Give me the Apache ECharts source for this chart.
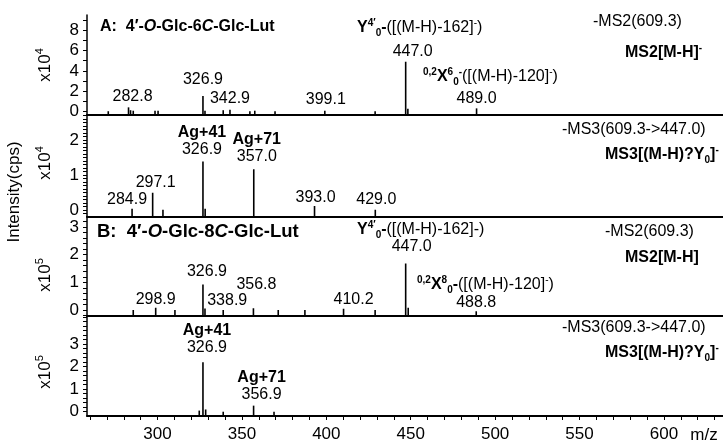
<!DOCTYPE html>
<html><head><meta charset="utf-8">
<script src="https://cdn.jsdelivr.net/npm/echarts@6/dist/echarts.min.js"></script>
<style>html,body{margin:0;padding:0;background:#fff}#c{width:723px;height:444px}</style>
</head><body><div id="c"></div>
<script>
// ---------- DATA ----------
const xTickLabels = [300, 350, 400, 450, 500, 550, 600];

// Panel A, MS2 (x10^4)
const mzA2 = [270.8, 282.8, 284.0, 285.6, 298.5, 300.3, 326.9, 328.1, 338.9, 342.9, 354.7, 357.6, 369.6, 399.1, 428.9, 447.0, 448.3, 489.0];
const intA2 = [0.05, 0.43, 0.15, 0.10, 0.10, 0.10, 1.54, 0.10, 0.15, 0.20, 0.05, 0.10, 0.05, 0.10, 0.05, 4.90, 0.30, 0.33];
const labMzA2 = [282.8, 326.9, 342.9, 399.1, 447.0, 489.0];
const labTxtA2 = ['282.8', '326.9', '342.9', '399.1', '447.0', '489.0'];
const labHeadA2 = ['', '', '', '', '', ''];

// Panel A, MS3 (x10^4)
const mzA3 = [284.9, 297.1, 303.2, 326.9, 328.2, 357.0, 393.0, 429.0];
const intA3 = [0.03, 0.49, 0.00, 1.38, 0.03, 1.16, 0.11, 0.00];
const labMzA3 = [284.9, 297.1, 326.9, 357.0, 393.0, 429.0];
const labTxtA3 = ['284.9', '297.1', '326.9', '357.0', '393.0', '429.0'];
const labHeadA3 = ['', '', 'Ag+41', 'Ag+71', '', ''];

// Panel B, MS2 (x10^5)
const mzB2 = [285.6, 298.9, 310.3, 326.9, 328.1, 338.9, 356.8, 371.5, 387.3, 410.2, 428.9, 447.0, 448.5, 488.8];
const intB2 = [0.00, 0.08, 0.00, 0.92, 0.05, 0.00, 0.06, 0.00, 0.00, 0.04, 0.00, 1.68, 0.08, -0.05];
const labMzB2 = [298.9, 326.9, 338.9, 356.8, 410.2, 447.0, 488.8];
const labTxtB2 = ['298.9', '326.9', '338.9', '356.8', '410.2', '447.0', '488.8'];
const labHeadB2 = ['', '', '', '', '', '', ''];

// Panel B, MS3 (x10^5)
const mzB3 = [324.7, 326.9, 328.5, 338.9, 356.9, 369.0];
const intB3 = [0.05, 2.20, 0.10, 0.00, 0.27, 0.00];
const labMzB3 = [326.9, 356.9];
const labTxtB3 = ['326.9', '356.9'];
const labHeadB3 = ['Ag+41', 'Ag+71'];

const yTickLabels = [[0, 2, 4, 6, 8], [0, 1, 2], [0, 1, 2, 3], [0, 1, 2, 3]];

// ---------- LAYOUT / STYLE ----------
const F = "'Liberation Sans', Arial, Helvetica, sans-serif";
const X_MIN = 258.2, X_MAX = 635;
const panels = [
  {top: 15, height: 100, yMin: -0.32, yMax: 9.48, minor: 1, mz: mzA2, it: intA2, lm: labMzA2, lt: labTxtA2, lh: labHeadA2,
   nudge: [[4,2],[0,8],[0,3],[1,3],[7,2],[0,1.5]]},
  {top: 115, height: 101.5, yMin: -0.19, yMax: 2.71, minor: 0.1, mz: mzA3, it: intA3, lm: labMzA3, lt: labTxtA3, lh: labHeadA3,
   nudge: [[-5,1],[3,2],[-1,3],[3,4.5],[1,0],[1,2]]},
  {top: 216.5, height: 99.5, yMin: -0.22, yMax: 3.38, minor: 0.2, mz: mzB2, it: intB2, lm: labMzB2, lt: labTxtB2, lh: labHeadB2,
   nudge: [[0,0],[4,4.5],[4,1],[3,15],[10,1],[6,8],[0,0]]},
  {top: 316, height: 100, yMin: -0.19, yMax: 4.25, minor: 0.2, mz: mzB3, it: intB3, lm: labMzB3, lt: labTxtB3, lh: labHeadB3,
   nudge: [[4,6],[8,2.7]]}
];

function steps(a, b, s) {
  const out = [];
  for (let v = Math.ceil(a / s - 1e-9) * s; v <= b + 1e-9; v += s) out.push(Math.round(v * 1000) / 1000);
  return out;
}

const grid = [], xAxis = [], yAxis = [], series = [];
panels.forEach((p, gi) => {
  grid.push({left: 87, right: 0, top: p.top, height: p.height, containLabel: false});
  const last = gi === panels.length - 1;
  xAxis.push({
    type: 'value', gridIndex: gi, min: X_MIN, max: X_MAX,
    axisLine: {show: true, onZero: false, lineStyle: {color: '#000', width: 2}},
    axisTick: last ? {show: true, customValues: steps(260, 630, 10), length: 4, lineStyle: {color: '#000', width: 1}} : {show: false},
    axisLabel: last ? {show: true, customValues: xTickLabels, color: '#000', fontSize: 17, fontFamily: F, margin: 10} : {show: false},
    splitLine: {show: false}
  });
  yAxis.push({
    type: 'value', gridIndex: gi, min: p.yMin, max: p.yMax,
    axisLine: {show: true, onZero: false, lineStyle: {color: '#000', width: 1.5}},
    axisTick: {show: true, customValues: steps(p.yMin, p.yMax, p.minor), length: 4, lineStyle: {color: '#000', width: 1}},
    axisLabel: {show: true, customValues: yTickLabels[gi], color: '#000', fontSize: 17, fontFamily: F, margin: 8},
    splitLine: {show: false}
  });
  const base = p.yMin;
  series.push({
    type: 'custom', xAxisIndex: gi, yAxisIndex: gi, silent: true, animation: false, clip: true,
    data: p.mz.map((m, i) => [m, p.it[i]]),
    renderItem: (params, api) => {
      const top = api.coord([api.value(0), api.value(1)]);
      const bot = api.coord([api.value(0), base]);
      return {type: 'line', shape: {x1: top[0], y1: bot[1], x2: top[0], y2: top[1]},
              style: {stroke: '#000', lineWidth: 1.6}};
    }
  });
  series.push({
    type: 'scatter', xAxisIndex: gi, yAxisIndex: gi, symbolSize: 0, silent: true, animation: false,
    itemStyle: {opacity: 1, color: '#000'},
    data: p.lm.map((m, i) => {
      const k = p.mz.indexOf(m);
      return {value: [m, p.it[k]], label: {offset: [p.nudge[i][0], -p.nudge[i][1]]}};
    }),
    label: {
      show: true, position: 'top', distance: 0, color: '#000', opacity: 1, fontFamily: F,
      textBorderWidth: 0,
      formatter: (q) => (p.lh[q.dataIndex] ? '{b|' + p.lh[q.dataIndex] + '}\n' : '') + '{n|' + p.lt[q.dataIndex] + '}',
      rich: {
        b: {fontSize: 16, fontWeight: 'bold', fontFamily: F, color: '#000', lineHeight: 17},
        n: {fontSize: 16, fontFamily: F, color: '#000', lineHeight: 17}
      }
    }
  });
});

// rich styles for annotations
const R = {
  r: {fontSize: 16, fontFamily: F, fill: '#000', lineHeight: 20, verticalAlign: 'middle'},
  b: {fontSize: 16, fontFamily: F, fontWeight: 'bold', fill: '#000', lineHeight: 20, verticalAlign: 'middle'},
  tb: {fontSize: 16, fontFamily: F, fontWeight: 'bold', fill: '#000', lineHeight: 20, verticalAlign: 'middle'},
  tbi: {fontSize: 16, fontFamily: F, fontWeight: 'bold', fontStyle: 'italic', fill: '#000', lineHeight: 20, verticalAlign: 'middle'},
  tb2: {fontSize: 18.5, fontFamily: F, fontWeight: 'bold', fill: '#000', lineHeight: 22, verticalAlign: 'middle'},
  tbi2: {fontSize: 18.5, fontFamily: F, fontWeight: 'bold', fontStyle: 'italic', fill: '#000', lineHeight: 22, verticalAlign: 'middle'},
  sup: {fontSize: 10, fontFamily: F, fill: '#000', lineHeight: 10, verticalAlign: 'top'},
  supb: {fontSize: 10, fontFamily: F, fontWeight: 'bold', fill: '#000', lineHeight: 10, verticalAlign: 'top'},
  subb: {fontSize: 10, fontFamily: F, fontWeight: 'bold', fill: '#000', lineHeight: 10, verticalAlign: 'bottom'},
  ax: {fontSize: 17, fontFamily: F, fill: '#000', lineHeight: 22, verticalAlign: 'middle'},
  axs: {fontSize: 11, fontFamily: F, fill: '#000', lineHeight: 11, verticalAlign: 'top'}
};
function T(x, y, text, opt) {
  opt = opt || {};
  return {type: 'text', x: x, y: y, rotation: opt.rot || 0, silent: true,
          style: {text: text, rich: R, align: opt.align || 'left', verticalAlign: 'middle',
                  fontFamily: F, fontSize: opt.fs || 16, fill: '#000'}};
}
const graphic = [
  T(100, 27, '{tb|A:  4′-}{tbi|O}{tb|-Glc-6}{tbi|C}{tb|-Glc-Lut}'),
  T(357, 28, '{b|Y}{supb|4′}{subb|0}{b|-}{r|([(M-H)-162]}{sup|-}{r|)}'),
  T(423, 77, '{supb|0,2}{b|X}{supb|6}{subb|0}{supb|-}{r|([(M-H)-120]}{sup|-}{r|)}'),
  T(593, 22, '{r|-MS2(609.3)}'),
  T(625, 53, '{b|MS2[M-H]}{supb|-}'),
  T(562, 130, '{r|-MS3(609.3->447.0)}'),
  T(605, 155, '{b|MS3[(M-H)?Y}{subb|0}{b|]}{supb|-}'),
  T(97, 232, '{tb2|B:  4′-}{tbi2|O}{tb2|-Glc-8}{tbi2|C}{tb2|-Glc-Lut}'),
  T(357, 230, '{b|Y}{supb|4′}{subb|0}{b|-}{r|([(M-H)-162]-)}'),
  T(417, 285, '{supb|0,2}{b|X}{supb|8}{subb|0}{b|-}{r|([(M-H)-120]}{sup|-}{r|)}'),
  T(605, 232, '{r|-MS2(609.3)}'),
  T(625, 258, '{b|MS2[M-H]}'),
  T(562, 328, '{r|-MS3(609.3->447.0)}'),
  T(605, 353, '{b|MS3[(M-H)?Y}{subb|0}{b|]}{supb|-}'),
  T(45, 65, '{ax|x10}{axs|4}', {rot: Math.PI / 2, align: 'center'}),
  T(45, 163, '{ax|x10}{axs|4}', {rot: Math.PI / 2, align: 'center'}),
  T(45, 275, '{ax|x10}{axs|5}', {rot: Math.PI / 2, align: 'center'}),
  T(45, 372, '{ax|x10}{axs|5}', {rot: Math.PI / 2, align: 'center'}),
  T(14, 192, '{ax|Intensity(cps)}', {rot: Math.PI / 2, align: 'center'}),
  T(704, 435, '{ax|m/z}', {align: 'center'})
];

const chart = echarts.init(document.getElementById('c'), null, {renderer: 'canvas'});
chart.setOption({
  backgroundColor: '#fff', animation: false,
  grid: grid, xAxis: xAxis, yAxis: yAxis, series: series, graphic: graphic
});
</script></body></html>
